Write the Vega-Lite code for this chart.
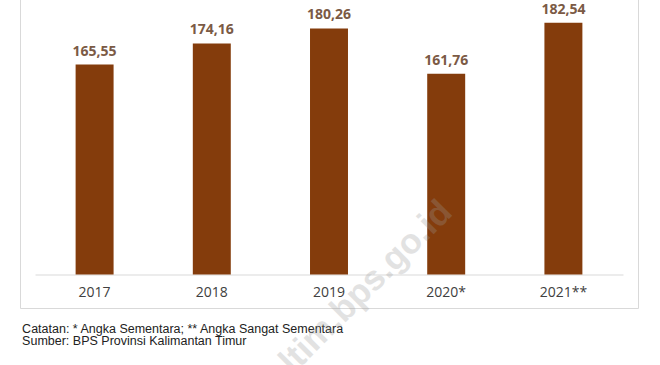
{
  "$schema": "https://vega.github.io/schema/vega-lite/v6.json",
  "autosize": {"type": "none"},
  "width": 618,
  "height": 311,
  "padding": {"left": 20, "top": -3, "right": 22, "bottom": 57},
  "background": "white",
  "config": {
    "view": {"stroke": "#d9d9d9", "strokeWidth": 1},
    "font": "Open Sans"
  },
  "data": {
    "values": [
      {"tahun": "2017", "nilai": 165.55, "label": "165,55"},
      {"tahun": "2018", "nilai": 174.16, "label": "174,16"},
      {"tahun": "2019", "nilai": 180.26, "label": "180,26"},
      {"tahun": "2020*", "nilai": 161.76, "label": "161,76"},
      {"tahun": "2021**", "nilai": 182.54, "label": "182,54"}
    ]
  },
  "layer": [
    {
      "mark": {"type": "bar", "color": "#843C0C"},
      "encoding": {
        "x": {
          "field": "tahun",
          "type": "nominal",
          "sort": null,
          "scale": {"paddingInner": 0.676, "paddingOuter": 0.4745},
          "axis": {
            "title": null,
            "orient": "bottom",
            "offset": -33.5,
            "domainColor": "#d9d9d9",
            "domainDash": [0, 15, 588, 1000],
            "ticks": false,
            "labelAngle": 0,
            "labelPadding": 11,
            "labelFont": "Open Sans",
            "labelFontSize": 14,
            "labelColor": "#404040"
          }
        },
        "y": {"field": "nilai", "type": "quantitative", "scale": {"domain": [66.35, 193.08], "zero": false, "nice": false}, "axis": null},
        "y2": {"datum": 80}
      }
    },
    {
      "mark": {"type": "text", "baseline": "middle", "dy": -13, "fontSize": 14, "fontWeight": "bold", "font": "Open Sans", "color": "#7b5a45"},
      "encoding": {
        "x": {"field": "tahun", "type": "nominal", "sort": null},
        "y": {"field": "nilai", "type": "quantitative"},
        "text": {"field": "label"}
      }
    },
    {
      "data": {"values": [{"catatan": "Catatan: * Angka Sementara; ** Angka Sangat Sementara"}]},
      "mark": {"type": "text", "font": "Liberation Sans", "fontSize": 12.5, "fontWeight": "normal", "color": "#222222", "align": "left", "baseline": "middle", "dx": -72.5},
      "encoding": {
        "x": {"datum": "2017", "type": "nominal"},
        "y": {"datum": 57.87, "type": "quantitative"},
        "text": {"field": "catatan"}
      }
    },
    {
      "data": {"values": [{"sumber": "Sumber: BPS Provinsi Kalimantan Timur"}]},
      "mark": {"type": "text", "font": "Liberation Sans", "fontSize": 12.5, "fontWeight": "normal", "color": "#222222", "align": "left", "baseline": "middle", "dx": -72.5},
      "encoding": {
        "x": {"datum": "2017", "type": "nominal"},
        "y": {"datum": 52.7, "type": "quantitative"},
        "text": {"field": "sumber"}
      }
    },
    {
      "data": {"values": [{"wm": "kaltim.bps.go.id"}]},
      "mark": {"type": "text", "angle": 315, "fontSize": 35, "fontWeight": "bold", "font": "Liberation Sans", "color": "#9a9a9a", "opacity": 0.28, "align": "center", "baseline": "middle", "dy": 32.5},
      "encoding": {
        "x": {"datum": "2019", "type": "nominal"},
        "y": {"datum": 78.8, "type": "quantitative"},
        "text": {"field": "wm"}
      }
    }
  ]
}
